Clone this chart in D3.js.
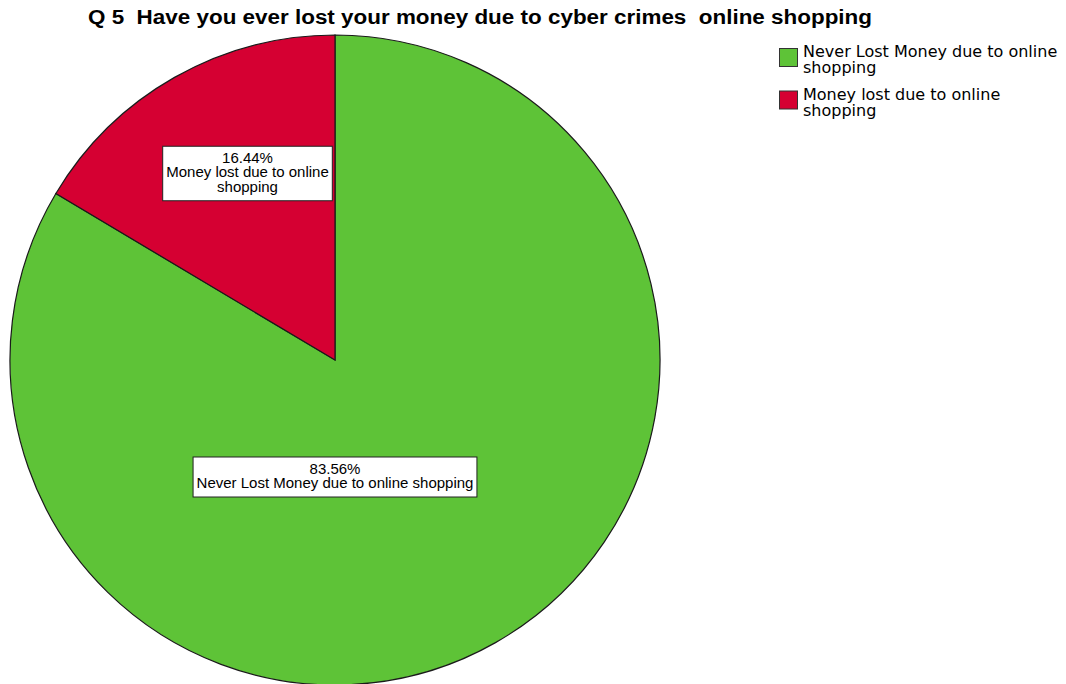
<!DOCTYPE html>
<html>
<head>
<meta charset="utf-8">
<script src="https://cdn.jsdelivr.net/npm/d3@7"></script>
<style>
  html, body { margin: 0; padding: 0; background: #fff; }
  svg { display: block; }
  text { white-space: pre; }
</style>
</head>
<body>
<svg id="chart" width="1066" height="684"></svg>
<script>
// Survey answers and their shares of respondents (percent)
const categories = ["Never Lost Money due to online shopping", "Money lost due to online shopping"];
const values = [83.56, 16.44];
const colors = ["#5ec337", "#d50032"];
const legendLines = [["Never Lost Money due to online", "shopping"], ["Money lost due to online", "shopping"]];
const labelLines = [["83.56%", "Never Lost Money due to online shopping"], ["16.44%", "Money lost due to online", "shopping"]];

const svg = d3.select("#chart");
const cx = 335, cy = 360, r = 325;

svg.append("text")
  .attr("x", 88).attr("y", 24)
  .attr("font-family", "Liberation Sans, Arial, sans-serif")
  .attr("font-weight", "bold")
  .attr("font-size", 19.5)
  .attr("textLength", 784)
  .attr("lengthAdjust", "spacingAndGlyphs")
  .attr("fill", "#000")
  .text("Q 5  Have you ever lost your money due to cyber crimes  online shopping");

const data = categories.map((c, i) => ({ cat: c, value: values[i], color: colors[i], label: labelLines[i] }));

const pie = d3.pie().value(d => d.value).sort(null);
const arc = d3.arc().innerRadius(0).outerRadius(r);
const arcs = pie(data);

const g = svg.append("g").attr("transform", `translate(${cx},${cy})`);
g.selectAll("path.slice").data(arcs).join("path")
  .attr("class", "slice")
  .attr("d", arc)
  .attr("fill", d => d.data.color)
  .attr("stroke", "#1a1a1a")
  .attr("stroke-width", 1.2);

// Label box centres, relative to the pie centre
const labelPos = [[0, 117], [-87.5, -186.5]];
const labelFont = 15, lineH = 14.5;
arcs.forEach(d => {
  const [lx, ly] = labelPos[d.index];
  const lines = d.data.label;
  const lg = g.append("g");
  const texts = lines.map(t => lg.append("text")
    .attr("text-anchor", "middle")
    .attr("font-family", "Liberation Sans, Arial, sans-serif")
    .attr("font-size", labelFont)
    .attr("fill", "#000")
    .text(t));
  const widths = texts.map(t => t.node().getComputedTextLength());
  const w = d3.max(widths) + 7;
  const h = lines.length * lineH + 11;
  lg.insert("rect", "text")
    .attr("x", lx - w / 2).attr("y", ly - h / 2)
    .attr("width", w).attr("height", h)
    .attr("fill", "#fff").attr("stroke", "#222").attr("stroke-width", 1);
  texts.forEach((t, i) => t.attr("x", lx).attr("y", ly - h / 2 + 4 + lineH * (i + 1) - 2));
});

// Legend
const lgd = svg.append("g").attr("transform", "translate(779,48)");
data.forEach((d, i) => {
  const y = i * 42.5;
  lgd.append("rect").attr("x", 0.5).attr("y", y + 0.5).attr("width", 18).attr("height", 18)
    .attr("fill", d.color).attr("stroke", "#333").attr("stroke-width", 1);
  legendLines[i].forEach((t, j) => {
    lgd.append("text")
      .attr("x", 24).attr("y", y + 9 + j * 16)
      .attr("font-family", "DejaVu Sans, sans-serif")
      .attr("font-size", 16)
      .attr("fill", "#000")
      .text(t);
  });
});
</script>
</body>
</html>
